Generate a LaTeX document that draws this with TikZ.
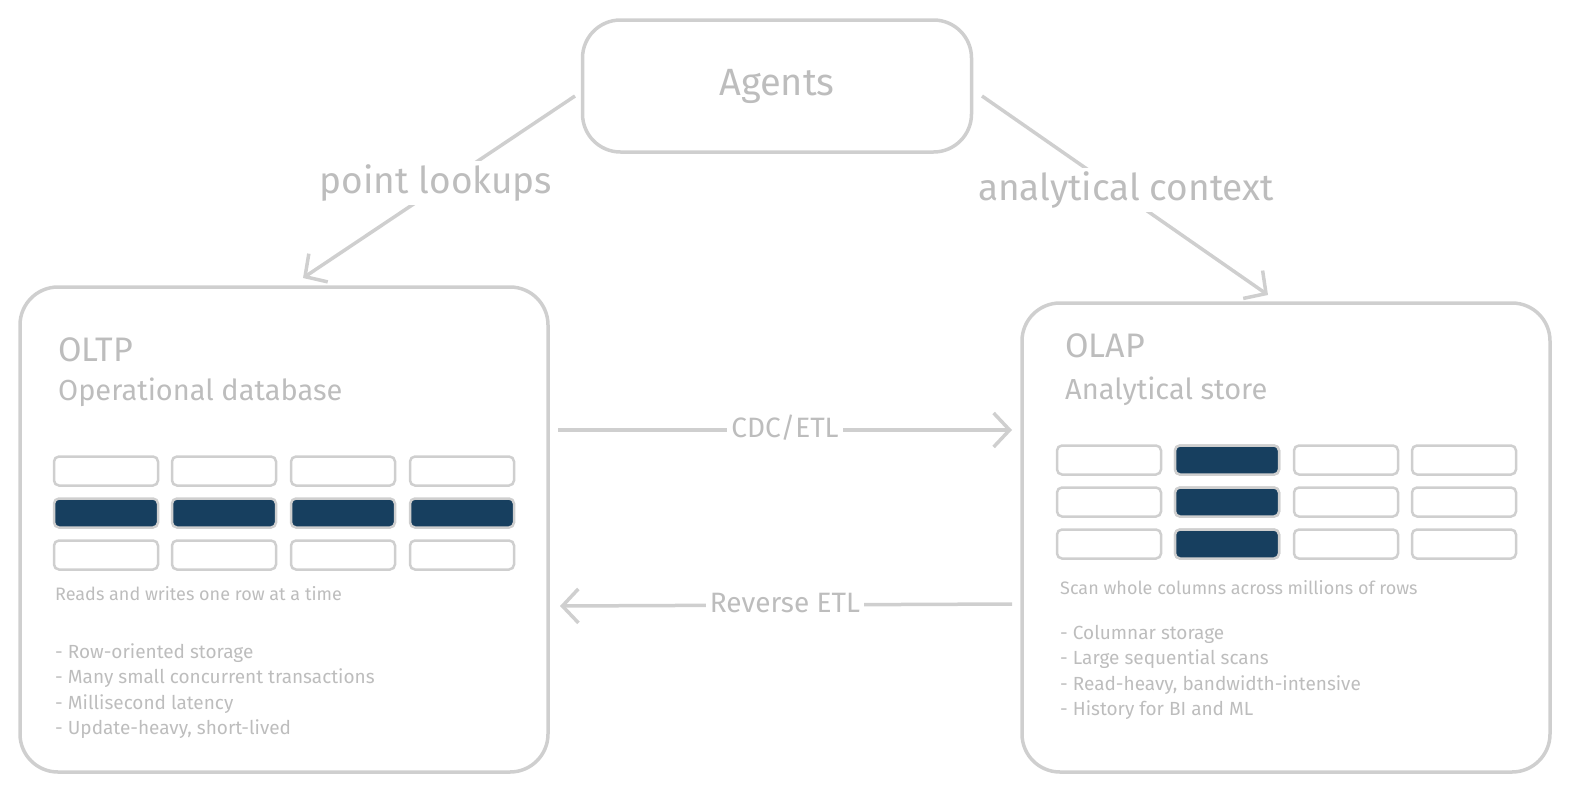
\documentclass[tikz,border=0pt]{standalone}
\usepackage{fontspec}
\setmainfont{Fira Sans}
\usetikzlibrary{arrows.meta,positioning}
\definecolor{strokegray}{HTML}{CFCFCF}
\definecolor{textgray}{HTML}{BDBDBD}
\definecolor{cellblue}{HTML}{173F5F}
\tikzstyle{box}=[draw=strokegray,line width=3.5pt,rounded corners=38pt]
\tikzstyle{cell}=[draw=strokegray,line width=2.5pt,rounded corners=5pt,minimum width=104pt,minimum height=29pt,inner sep=0pt]
\tikzstyle{full}=[cell,fill=cellblue]
\tikzstyle{link}=[draw=strokegray,line width=3.5pt,-{Straight Barb[length=16pt,width=34pt,line width=3.5pt]}]
\tikzstyle{lbl}=[text=textgray,fill=white,inner sep=4pt]
\tikzstyle{txt}=[text=textgray,anchor=west,inner sep=0pt]
\begin{document}
\begin{tikzpicture}[x=1pt,y=-1pt]
	\useasboundingbox (0,0) rectangle (1595,806);
	% boxes
	\node [box,minimum width=389pt,minimum height=132pt] (agents) at (777,86) {};
	\node [text=textgray,font=\fontsize{38}{40}\selectfont] (agentsl) at (777,86) {Agents};
	\draw [box] (20,287) rectangle (548,772);
	\draw [box] (1022,303) rectangle (1550,772);
	% OLTP side
	\node [txt,font=\fontsize{34}{36}\selectfont] (oltp) at (58,350) {OLTP};
	\node [txt,font=\fontsize{29}{31}\selectfont] (oltpsub) at (58,392) {Operational database};
	\foreach \c/\x in {1/106,2/224,3/343,4/462} {
		\node [cell] (r1\c) at (\x,471) {};
		\node [full] (r2\c) at (\x,513) {};
		\node [cell] (r3\c) at (\x,555) {};
	}
	\node [txt,font=\fontsize{18}{20}\selectfont] (oltpcap) at (55,594) {Reads and writes one row at a time};
	\node [txt,font=\fontsize{19}{25.5}\selectfont,align=left,anchor=north west] (oltplist) at (55,643) {- Row-oriented storage\\- Many small concurrent transactions\\- Millisecond latency\\- Update-heavy, short-lived};
	% OLAP side
	\node [txt,font=\fontsize{34}{36}\selectfont] (olap) at (1065,346) {OLAP};
	\node [txt,font=\fontsize{29}{31}\selectfont] (olapsub) at (1065,391) {Analytical store};
	\foreach \c/\x in {1/1109,2/1227,3/1346,4/1464} {
		\node [cell] (k1\c) at (\x,460) {};
		\node [cell] (k2\c) at (\x,502) {};
		\node [cell] (k3\c) at (\x,544) {};
	}
	\foreach \r in {1,2,3} {
		\node [full] (f\r) at (k\r2) {};
	}
	\node [txt,font=\fontsize{18}{20}\selectfont] (olapcap) at (1060,588) {Scan whole columns across millions of rows};
	\node [txt,font=\fontsize{19}{25.5}\selectfont,align=left,anchor=north west] (olaplist) at (1060,625) {- Columnar storage\\- Large sequential scans\\- Read-heavy, bandwidth-intensive\\- History for BI and ML};
	% connectors
	\coordinate (c1) at (558,430);
	\coordinate (c2) at (1012,430);
	\coordinate (c3) at (1012,604);
	\coordinate (c4) at (560,606);
	\coordinate (c5) at (575,96);
	\coordinate (c6) at (303,278);
	\coordinate (c7) at (982,96);
	\coordinate (c8) at (1268,295);
	\draw [link] (c1) to (c2);
	\draw [link] (c3) to (c4);
	\draw [link] (c5) to (c6);
	\draw [link] (c7) to (c8);
	\node [lbl,font=\fontsize{28}{30}\selectfont] (cdc) at (785,428) {CDC/ETL};
	\node [lbl,font=\fontsize{28}{30}\selectfont] (rev) at (785,603) {Reverse ETL};
	\node [lbl,font=\fontsize{37}{39}\selectfont] (point) at (436,183) {point lookups};
	\node [lbl,font=\fontsize{37}{39}\selectfont] (anal) at (1126,190) {analytical context};
\end{tikzpicture}
\end{document}
